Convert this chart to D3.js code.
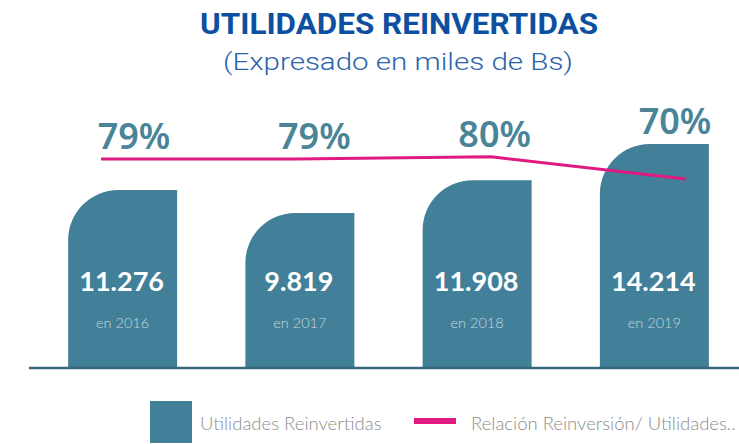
<!DOCTYPE html>
<html lang="es">
<head>
  <meta charset="UTF-8" />
  <title>Utilidades Reinvertidas</title>
  <script src="https://d3js.org/d3.v7.min.js"></script>
  <style>
    body { margin: 0; background: #fff; }
    svg { display: block; }
    .title { font-family: "Liberation Sans Narrow", "Roboto", sans-serif; font-weight: bold; font-size: 29px; fill: #0d4fa1; }
    .subtitle { font-family: "Roboto Light", Roboto, sans-serif; font-weight: 300; font-size: 24px; fill: #2a62ab; }
    .pct { font-family: "Noto Sans", sans-serif; font-weight: 600; font-size: 36px; fill: #4a8499; }
    .val { font-family: Lato, sans-serif; font-weight: bold; font-size: 27px; fill: #fff; }
    .yr { font-family: "Lato Light", Lato, sans-serif; font-weight: 300; font-size: 14.5px; fill: rgba(255,255,255,0.7); }
    .legend { font-family: "Lato Light", Lato, sans-serif; font-weight: 300; font-size: 18.5px; fill: #8c8c8c; }
  </style>
</head>
<body>
<svg width="739" height="444"></svg>
<script>
  // datos
  const years = ["2016", "2017", "2018", "2019"];
  const utilidades = [11276, 9819, 11908, 14214];
  const relacion = [79, 79, 80, 70];
  const yearLabels = ["en 2016", "en 2017", "en 2018", "en 2019"];
  const seriesNames = ["Utilidades Reinvertidas", "Relación Reinversión/ Utilidades.."];

  const barColor = "#427f98";
  const lineColor = "#e01a80";

  const svg = d3.select("svg");
  const es = d3.formatLocale({ decimal: ",", thousands: ".", grouping: [3], currency: ["", ""] });
  const fmt = es.format(",d");

  // escalas
  const x = d3.scaleBand().domain(years).range([34, 743]).paddingInner(0.385).paddingOuter(0.1925);
  const y = d3.scaleLinear().domain([0, 14214]).range([367, 144]);
  const xLine = d3.scalePoint().domain(years).range([101, 686]);
  const yLine = d3.scaleLinear().domain([70, 79]).range([179, 159]);
  const xLabel = d3.scalePoint().domain(years).range([134, 675]);

  // títulos
  svg.append("text").attr("class", "title")
     .attr("x", 399).attr("y", 34).attr("text-anchor", "middle")
     .attr("textLength", 398).attr("lengthAdjust", "spacingAndGlyphs")
     .text("UTILIDADES REINVERTIDAS");
  svg.append("text").attr("class", "subtitle")
     .attr("x", 398).attr("y", 70).attr("text-anchor", "middle")
     .attr("textLength", 350).attr("lengthAdjust", "spacingAndGlyphs")
     .text("(Expresado en miles de Bs)");

  // barras con esquina superior izquierda redondeada
  const r = 50;
  const barPath = (d, i) => {
    const x0 = x(years[i]), w = x.bandwidth(), top = y(d), base = y(0);
    return `M${x0},${base}L${x0},${top + r}A${r},${r} 0 0 1 ${x0 + r},${top}L${x0 + w},${top}L${x0 + w},${base}Z`;
  };

  svg.append("g").selectAll("path")
     .data(utilidades).enter().append("path")
     .attr("d", barPath)
     .attr("fill", barColor);

  // eje base
  svg.append("line")
     .attr("x1", 29).attr("x2", 739)
     .attr("y1", y(0) + 1).attr("y2", y(0) + 1)
     .attr("stroke", "#36697e").attr("stroke-width", 2.5);

  // valores
  svg.append("g").selectAll("text")
     .data(utilidades).enter().append("text")
     .attr("class", "val")
     .attr("x", (d, i) => x(years[i]) + x.bandwidth() / 2 - 1)
     .attr("y", 291).attr("text-anchor", "middle")
     .text(d => fmt(d));

  svg.append("g").selectAll("text")
     .data(yearLabels).enter().append("text")
     .attr("class", "yr")
     .attr("x", (d, i) => x(years[i]) + x.bandwidth() / 2)
     .attr("y", 328).attr("text-anchor", "middle")
     .text(d => d);

  // línea de relación
  const line = d3.line().x((d, i) => xLine(years[i])).y(d => yLine(d));
  svg.append("path")
     .datum(relacion)
     .attr("d", line)
     .attr("fill", "none")
     .attr("stroke", lineColor)
     .attr("stroke-width", 3);

  // porcentajes
  svg.append("g").selectAll("text")
     .data(relacion).enter().append("text")
     .attr("class", "pct")
     .attr("x", (d, i) => xLabel(years[i]))
     .attr("y", (d, i) => Math.min(yLine(d), y(utilidades[i])) - 10)
     .attr("text-anchor", "middle")
     .text(d => d + "%");

  // leyenda
  const lg = svg.append("g");
  lg.append("rect").attr("x", 150).attr("y", 401).attr("width", 42).attr("height", 42).attr("fill", barColor);
  lg.append("text").attr("class", "legend").attr("x", 200).attr("y", 430).text(seriesNames[0]);
  lg.append("rect").attr("x", 414).attr("y", 418).attr("width", 42).attr("height", 6).attr("fill", lineColor);
  lg.append("text").attr("class", "legend").attr("x", 471).attr("y", 430).text(seriesNames[1]);
</script>
</body>
</html>
